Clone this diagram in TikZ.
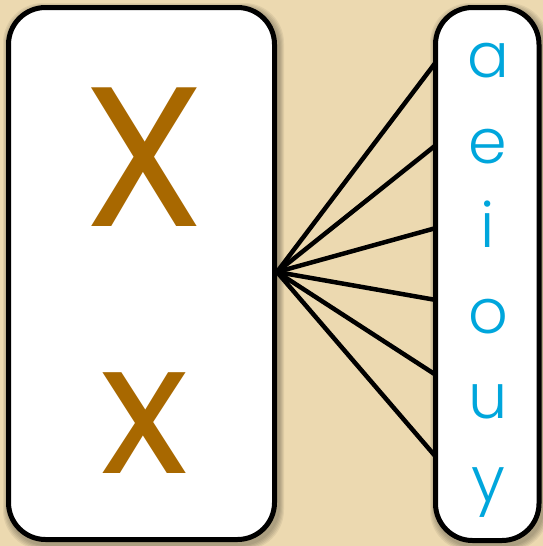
\documentclass[tikz,border=0pt]{standalone}
\usepackage{fontspec}
\setmainfont{Poppins}
\newfontfamily\poplight{Poppins Light}
\definecolor{parch}{HTML}{ECD9B0}
\definecolor{brownx}{HTML}{A86800}
\definecolor{bluev}{HTML}{00A6DC}
\begin{document}
\begin{tikzpicture}[x=1pt,y=-1pt,
  box/.style={draw=black, line width=5pt, fill=white, rounded corners=37pt,
    inner sep=0pt, outer sep=0pt},
  shade/.style={fill=black, fill opacity=0.06, rounded corners=40pt},
  link/.style={line width=4.5pt, draw=black},
  big/.style={text=brownx, anchor=base, inner sep=0pt},
  vow/.style={text=bluev, anchor=base, inner sep=0pt, font=\poplight\fontsize{62}{62}\selectfont}]
\fill[parch] (0,0) rectangle (543,546);
\useasboundingbox (0,0) rectangle (543,546);
% soft shadows
\foreach \d in {1,2,3,4,5}{
  \fill[shade] (6-\d+2,5-\d+3) rectangle (277+\d+2,542+\d+3);
  \fill[shade] (433-\d+2,5-\d+3) rectangle (541.5+\d+2,543+\d+3);
}
\coordinate (hub) at (277,272);
\coordinate (e1) at (436,62);
\coordinate (e2) at (436,145);
\coordinate (e3) at (436,228);
\coordinate (e4) at (436,300);
\coordinate (e5) at (436,375);
\coordinate (e6) at (436,457);
\foreach \e in {e1,e2,e3,e4,e5,e6}{\draw[link] (hub) -- (\e);}
\node[box, minimum width=266pt, minimum height=532pt] (L) at (141.5,273.5) {};
\node[box, minimum width=103.5pt, minimum height=533pt] (R) at (487.25,274) {};
\node[big, font=\fontsize{199}{199}\selectfont] (X1) at (144,226) {X};
\node[big, font=\fontsize{184}{184}\selectfont] (X2) at (144.5,473) {x};
\node[vow] (va) at (488,77) {a};
\node[vow] (ve) at (488,163) {e};
\node[vow] (vi) at (488,247) {i};
\node[vow] (vo) at (488,333) {o};
\node[vow] (vu) at (488,418) {u};
\node[vow] (vy) at (488,501) {y};
\end{tikzpicture}
\end{document}
